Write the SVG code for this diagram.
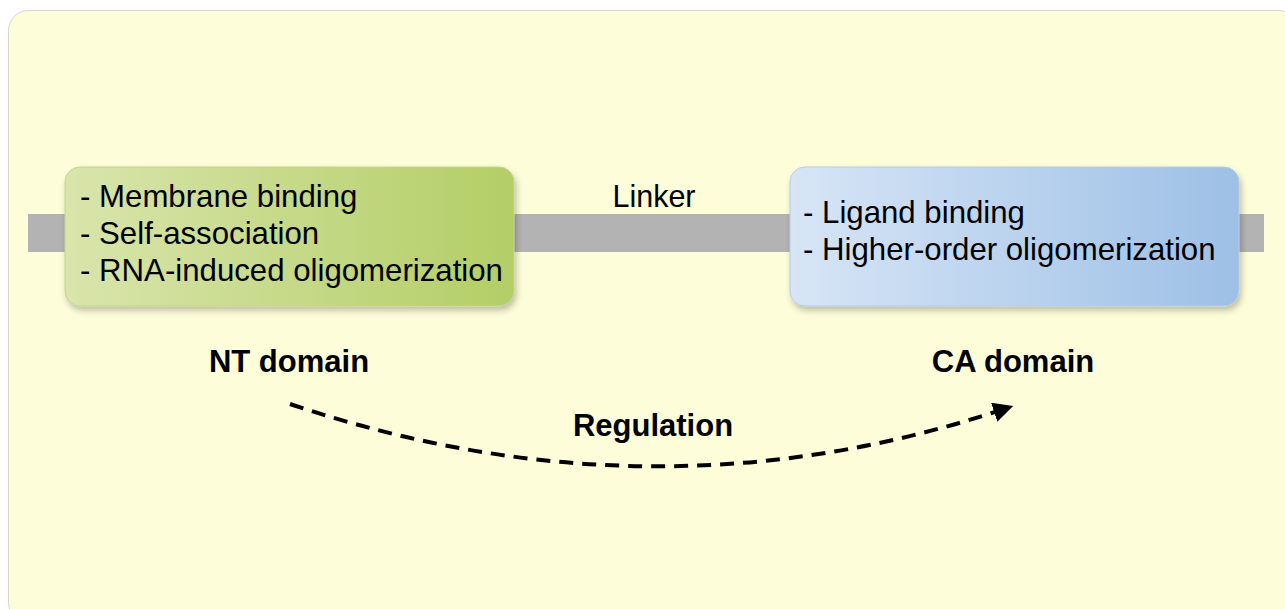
<svg xmlns="http://www.w3.org/2000/svg" width="1285" height="609" viewBox="0 0 1285 609">
<style>
.t{font-family:"Liberation Sans",Arial,sans-serif;font-size:31.2px;fill:#000}
.l{font-family:"Liberation Sans",Arial,sans-serif;font-size:30.5px;fill:#000}
.b{font-family:"Liberation Sans",Arial,sans-serif;font-size:31px;font-weight:bold;fill:#000}
</style>
<defs>
<linearGradient id="gG" x1="0" y1="0" x2="1" y2="0">
<stop offset="0" stop-color="#D9E5AC"/>
<stop offset="1" stop-color="#B3CE66"/>
</linearGradient>
<linearGradient id="gB" x1="0" y1="0" x2="1" y2="0">
<stop offset="0" stop-color="#D7E5F6"/>
<stop offset="1" stop-color="#9DC0E6"/>
</linearGradient>
<filter id="sh" x="-10%" y="-20%" width="120%" height="150%">
<feDropShadow dx="2" dy="4" stdDeviation="3" flood-color="#000" flood-opacity="0.25"/>
</filter>
<marker id="ah" viewBox="0 0 10 10" refX="2" refY="5" markerWidth="5" markerHeight="5" orient="auto" markerUnits="strokeWidth">
<path d="M0,0 L10,5 L0,10 z" fill="#000"/>
</marker>
</defs>
<rect x="8.5" y="10.5" width="1290" height="612" rx="20" fill="#FEFDD9" stroke="#D6D6D0" stroke-width="1"/>
<rect id="linker-bar" x="28" y="214" width="1236" height="38" fill="#B3B3B3"/>
<g id="nt-box">
<rect x="65" y="167" width="449" height="139" rx="15" fill="url(#gG)" stroke="#C2D48E" stroke-width="1" filter="url(#sh)"/>
<text class="t" x="80" y="207">- Membrane binding</text>
<text class="t" x="80" y="244">- Self-association</text>
<text class="t" x="80" y="281">- RNA-induced oligomerization</text>
</g>
<g id="ca-box">
<rect x="790" y="167" width="449" height="139" rx="15" fill="url(#gB)" stroke="#B5CCE6" stroke-width="1" filter="url(#sh)"/>
<text class="t" x="803" y="223">- Ligand binding</text>
<text class="t" x="803" y="260">- Higher-order oligomerization</text>
</g>
<g id="labels">
<text class="l" x="654" y="207" text-anchor="middle">Linker</text>
<text class="b" x="289" y="372" text-anchor="middle">NT domain</text>
<text class="b" x="1013" y="372" text-anchor="middle">CA domain</text>
<text class="b" x="653" y="436" text-anchor="middle">Regulation</text>
</g>
<g id="connectors">
<path d="M290,404 Q650,525 998,411" fill="none" stroke="#000" stroke-width="4" stroke-dasharray="14,9" marker-end="url(#ah)"/>
</g>
</svg>
